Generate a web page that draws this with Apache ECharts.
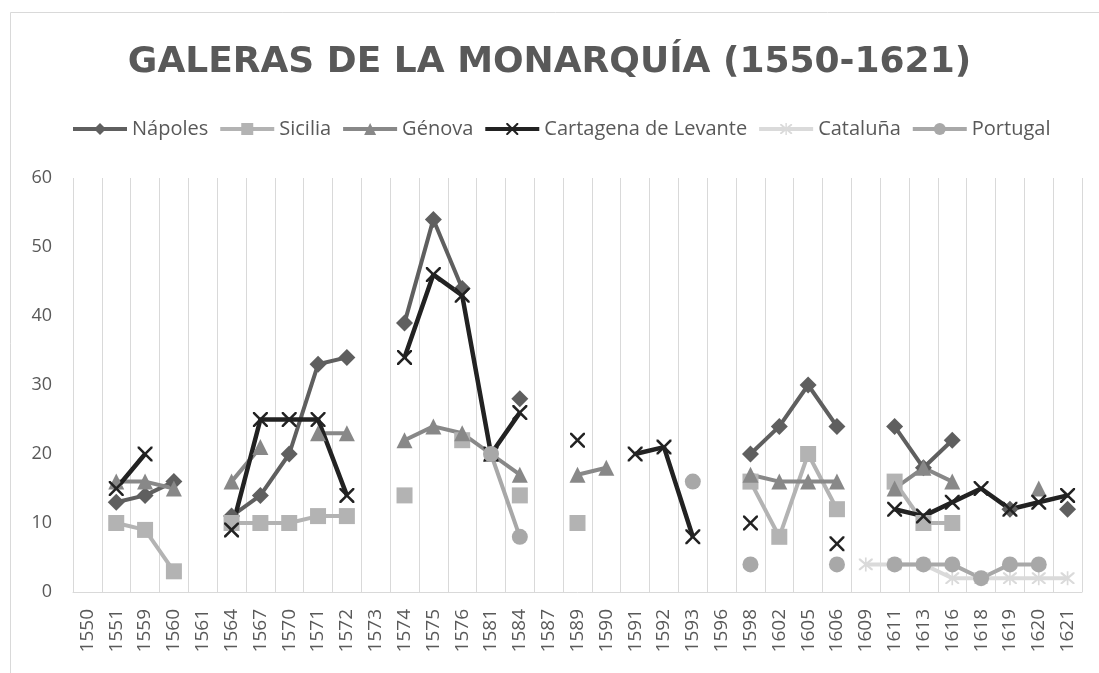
<!DOCTYPE html>
<html>
<head>
<meta charset="utf-8">
<script src="https://cdn.jsdelivr.net/npm/echarts@6/dist/echarts.min.js"></script>
<style>
  html, body { margin: 0; padding: 0; background: #fff; }
  #chart { width: 1099px; height: 673px; }
</style>
</head>
<body>
<div id="chart"></div>
<script>
// years on the category axis
var years = ['1550','1551','1559','1560','1561','1564','1567','1570','1571','1572','1573',
  '1574','1575','1576','1581','1584','1587','1589','1590','1591','1592','1593','1596',
  '1598','1602','1605','1606','1609','1611','1613','1616','1618','1619','1620','1621'];

var napoles = [null,13,14,16,null,11,14,20,33,34,null,
  39,54,44,null,28,null,null,null,null,null,null,null,
  20,24,30,24,null,24,18,22,null,12,null,12];
var sicilia = [null,10,9,3,null,10,10,10,11,11,null,
  14,null,22,null,14,null,10,null,null,null,null,null,
  16,8,20,12,null,16,10,10,null,null,null,null];
var genova = [null,16,16,15,null,16,21,null,23,23,null,
  22,24,23,20,17,null,17,18,null,null,null,null,
  17,16,16,16,null,15,18,16,null,null,15,null];
var cartagena = [null,15,20,null,null,9,25,25,25,14,null,
  34,46,43,20,26,null,22,null,20,21,8,null,
  10,null,null,7,null,12,11,13,15,12,13,14];
var cataluna = [null,null,null,null,null,null,null,null,null,null,null,
  null,null,null,null,null,null,null,null,null,null,null,null,
  null,null,null,null,4,4,4,2,2,2,2,2];
var portugal = [null,null,null,null,null,null,null,null,null,null,null,
  null,null,null,20,8,null,null,null,null,null,16,null,
  4,null,null,4,null,4,4,4,2,4,4,null];

// thin "x" and asterisk markers like Excel's
var crossPath = 'path://M0,0L1.2,0L5,3.8L8.8,0L10,0L10,1.2L6.2,5L10,8.8L10,10L8.8,10L5,6.2L1.2,10L0,10L0,8.8L3.8,5L0,1.2Z';
var starPath = 'path://M0,0L1.2,0L5,3.8L8.8,0L10,0L10,1.2L6.2,5L10,8.8L10,10L8.8,10L5,6.2L1.2,10L0,10L0,8.8L3.8,5L0,1.2Z M4.4,-1L5.6,-1L5.6,11L4.4,11Z';

function mkSeries(name, data, color, symbol, size, width) {
  return {
    name: name,
    type: 'line',
    data: data,
    connectNulls: false,
    showAllSymbol: true,
    symbol: symbol,
    symbolSize: size,
    lineStyle: { color: color, width: width },
    itemStyle: { color: color },
    emphasis: { disabled: true }
  };
}

var myChart = echarts.init(document.getElementById('chart'));

var option = {
  backgroundColor: '#fff',
  animation: false,
  textStyle: { fontFamily: 'Open Sans' },
  graphic: [{
    type: 'rect',
    shape: { x: 10.5, y: 12.5, width: 1200, height: 1000 },
    style: { fill: 'none', stroke: '#d9d9d9', lineWidth: 1 }
  }],
  title: {
    text: 'GALERAS DE LA MONARQUÍA (1550-1621)',
    left: 'center',
    top: 40,
    textStyle: { fontFamily: 'DejaVu Sans', fontWeight: 'bold', fontSize: 36, color: '#595959' }
  },
  legend: {
    top: 114,
    left: 66,
    itemWidth: 54,
    itemHeight: 15,
    itemGap: 10,
    lineStyle: { width: 4 },
    textStyle: { fontFamily: 'Open Sans', fontSize: 20, color: '#595959' },
    data: ['Nápoles', 'Sicilia', 'Génova', 'Cartagena de Levante', 'Cataluña', 'Portugal']
  },
  grid: { left: 73, right: 17, top: 178, bottom: 81 },
  xAxis: {
    type: 'category',
    data: years,
    boundaryGap: true,
    axisLine: { lineStyle: { color: '#d9d9d9', width: 1 } },
    axisTick: { show: false },
    splitLine: { show: true, interval: 0, lineStyle: { color: '#d9d9d9', width: 1 } },
    axisLabel: { interval: 0, rotate: 90, margin: 17, fontSize: 19, color: '#595959', fontFamily: 'Open Sans' }
  },
  yAxis: {
    type: 'value',
    min: 0,
    max: 60,
    interval: 10,
    axisLine: { show: false },
    axisTick: { show: false },
    splitLine: { show: false },
    axisLabel: { margin: 21, fontSize: 18, color: '#595959', fontFamily: 'Open Sans' }
  },
  series: [
    mkSeries('Nápoles', napoles, '#5f5f5f', 'diamond', 17, 4),
    mkSeries('Sicilia', sicilia, '#b3b3b3', 'rect', 16, 4),
    mkSeries('Génova', genova, '#888888', 'triangle', 16, 4),
    mkSeries('Cartagena de Levante', cartagena, '#222222', crossPath, 15, 4.5),
    mkSeries('Cataluña', cataluna, '#dadada', starPath, 14, 4),
    mkSeries('Portugal', portugal, '#a8a8a8', 'circle', 16, 4)
  ]
};

myChart.setOption(option);
</script>
</body>
</html>
